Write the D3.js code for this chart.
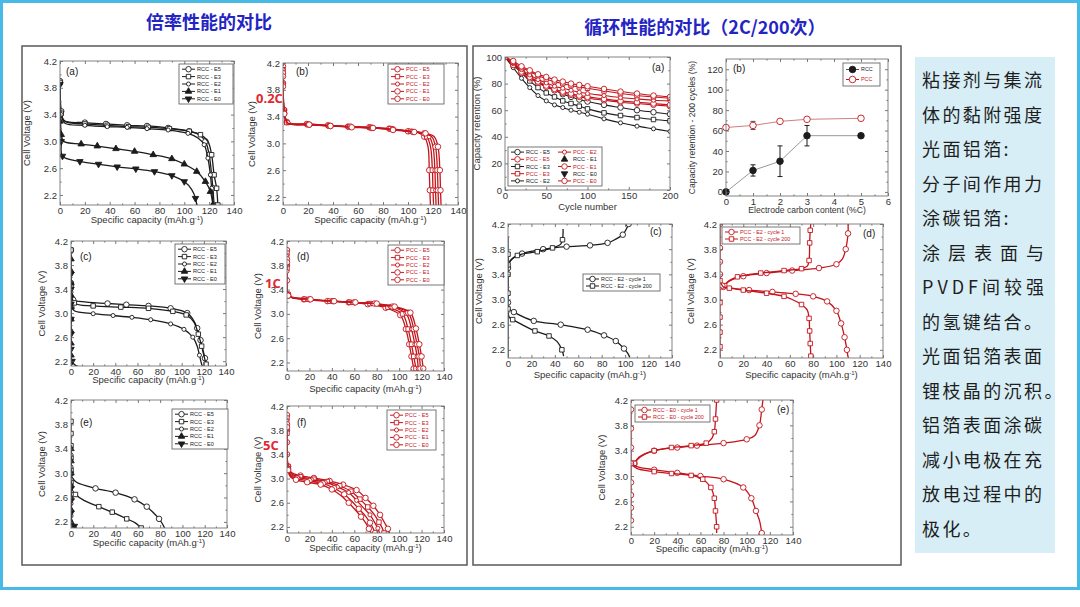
<!DOCTYPE html>
<html>
<head>
<meta charset="utf-8">
<script src="https://cdn.jsdelivr.net/npm/d3@7"></script>
<style>
body { margin: 0; background: #fff; }
svg { display: block; }
</style>
</head>
<body>
<div id="chart"></div>
<script>
// ---------- data: rate capability (capacity mAh/g, voltage V) ----------
// (a) RCC 0.2C
var aE5 = [[0,3.9],[1,3.45],[3,3.31],[20,3.28],[37,3.26],[54,3.24],[70,3.23],[87,3.2],[104,3.15],[112,3.1],[117,3.0],[120,2.8],[122,2.5],[123,2.3],[124,2.05]];
var aE3 = [[0,3.88],[1,3.42],[4,3.3],[20,3.26],[38,3.24],[55,3.22],[71,3.21],[88,3.19],[104,3.15],[113,3.1],[119,3.0],[122,2.8],[124,2.5],[126,2.3],[127,2.05]];
var aE2 = [[0,3.85],[1,3.4],[4,3.27],[20,3.24],[38,3.22],[54,3.21],[70,3.19],[87,3.17],[103,3.12],[111,3.05],[116,2.95],[119,2.75],[121,2.5],[122,2.3],[123,2.05]];
var aE1 = [[0,3.3],[1,3.1],[3,3.0],[17,2.96],[30,2.93],[45,2.89],[60,2.85],[75,2.8],[90,2.74],[100,2.66],[110,2.55],[117,2.4],[121,2.25],[123,2.05]];
var aE0 = [[0,3.85],[1,3.0],[2,2.78],[16,2.7],[31,2.66],[46,2.62],[61,2.59],[76,2.55],[90,2.49],[100,2.4],[106,2.28],[109,2.15],[110,2.05]];
// (b) PCC 0.2C
var bE5 = [[0,4.15],[0,3.9],[1,3.5],[3,3.32],[19,3.29],[36,3.27],[52,3.25],[69,3.24],[85,3.22],[100,3.18],[108,3.16],[113,3.1],[116,2.95],[117,2.6],[117.5,2.3],[118,2.05]];
var bE3 = [[0,4.1],[0,3.88],[1,3.48],[3,3.31],[20,3.28],[37,3.26],[53,3.25],[70,3.24],[86,3.22],[102,3.18],[110,3.16],[115,3.1],[118,2.95],[119.5,2.6],[120,2.3],[120.5,2.05]];
var bE2 = [[0,4.1],[0,3.86],[1,3.47],[4,3.31],[20,3.29],[37,3.27],[53,3.25],[70,3.23],[87,3.21],[103,3.18],[111,3.16],[117,3.1],[120,2.95],[121.5,2.6],[122,2.3],[122.5,2.05]];
var bE1 = [[0,4.05],[0,3.85],[1,3.45],[4,3.3],[21,3.28],[38,3.26],[54,3.25],[71,3.23],[88,3.21],[104,3.17],[113,3.15],[119,3.1],[122,2.95],[123.5,2.6],[124,2.3],[124.5,2.05]];
var bE0 = [[0,4.0],[0,3.84],[1,3.44],[4,3.3],[21,3.28],[38,3.26],[55,3.24],[72,3.23],[88,3.2],[105,3.17],[114,3.15],[121,3.1],[124,2.95],[125.5,2.6],[126,2.3],[126.5,2.05]];
// (c) RCC 1C
var cE5 = [[0,4.05],[0,3.5],[2,3.22],[10,3.19],[33,3.16],[50,3.14],[70,3.12],[90,3.08],[105,3.0],[110,2.9],[114,2.75],[117,2.55],[119,2.4],[121,2.25],[123,2.1]];
var cE3 = [[0,4.05],[0,3.45],[3,3.17],[20,3.12],[45,3.1],[70,3.08],[92,3.03],[104,2.97],[111,2.85],[115,2.65],[118,2.45],[120,2.3],[122,2.15],[123,2.1]];
var cE2 = [[0,3.35],[1,3.1],[3,3.04],[20,2.99],[38,2.96],[55,2.93],[72,2.89],[90,2.82],[102,2.73],[110,2.6],[114,2.45],[116,2.3],[118,2.15],[119,2.1]];
var cE1 = [[0,3.9],[0,3.7],[0,3.5],[0,3.3],[0,3.1],[0,2.9],[0,2.7],[0,2.5],[0,2.3],[0,2.1]];
var cE0 = [[0,3.65],[0,3.4],[0,3.15],[0,2.9],[0,2.65],[0,2.4],[1,2.2],[4,2.13],[9,2.1]];
// (d) PCC 1C
var dE5 = [[0,4.05],[0,3.8],[0,3.55],[1,3.32],[4,3.27],[15,3.24],[36,3.21],[55,3.19],[72,3.16],[88,3.1],[101,2.98],[106,2.75],[109,2.5],[111,2.3],[113,2.1]];
var dE3 = [[0,4.0],[0,3.75],[1,3.32],[4,3.27],[16,3.24],[38,3.21],[56,3.19],[74,3.17],[90,3.11],[103,3.0],[108,2.75],[111,2.5],[113,2.3],[115,2.1]];
var dE2 = [[0,3.95],[0,3.7],[1,3.31],[5,3.27],[18,3.24],[40,3.21],[58,3.19],[76,3.17],[92,3.12],[106,3.01],[111,2.75],[114,2.5],[116,2.3],[117,2.1]];
var dE1 = [[0,3.9],[1,3.3],[5,3.27],[20,3.24],[41,3.21],[60,3.19],[78,3.17],[94,3.12],[108,3.02],[113,2.75],[116,2.5],[118,2.3],[119,2.1]];
var dE0 = [[0,3.85],[1,3.3],[5,3.27],[21,3.24],[42,3.21],[61,3.19],[80,3.17],[96,3.12],[110,3.02],[115,2.76],[118,2.5],[120,2.3],[121.5,2.1]];
// (e) RCC 5C
var eE5 = [[0,3.0],[1,2.93],[5,2.85],[22,2.75],[40,2.68],[57,2.57],[68,2.45],[74,2.35],[79,2.25],[82,2.17],[84,2.1]];
var eE3 = [[0,3.85],[0,3.65],[0,3.45],[0,3.25],[0,3.05],[0,2.85],[1,2.72],[4,2.65],[12,2.55],[25,2.45],[37,2.36],[50,2.25],[58,2.18],[63,2.1]];
var eE2 = [[0,3.3],[0,3.1],[0,2.9],[0,2.7],[0,2.5],[0,2.3],[0,2.1]];
var eE1 = [[0,3.4],[0,3.2],[0,3.0],[0,2.8],[0,2.6],[0,2.4],[0,2.2],[0,2.1]];
var eE0 = [[0,2.75],[0,2.55],[0,2.35],[1,2.2],[3,2.13],[5,2.1]];
// (f) PCC 5C
var fE5 = [[0,4.05],[0,3.8],[0,3.6],[0,3.4],[1,3.2],[4,3.1],[12,3.05],[24,3.01],[38,2.96],[50,2.9],[62,2.81],[70,2.68],[77,2.55],[83,2.4],[87,2.27],[90,2.17],[91.5,2.1]];
var fE3 = [[0,4.0],[0,3.75],[1,3.2],[4,3.08],[12,3.03],[24,2.99],[36,2.95],[47,2.88],[57,2.79],[65,2.66],[72,2.53],[78,2.4],[82,2.28],[85,2.18],[86.5,2.1]];
var fE2 = [[0,3.95],[1,3.18],[3,3.07],[10,3.02],[22,2.98],[34,2.94],[45,2.86],[55,2.77],[62,2.64],[68,2.52],[74,2.4],[78,2.28],[81,2.18],[82.5,2.1]];
var fE1 = [[0,3.9],[1,3.16],[3,3.05],[9,3.0],[20,2.96],[32,2.92],[42,2.84],[51,2.74],[58,2.62],[64,2.5],[70,2.38],[74,2.27],[77,2.17],[78.5,2.1]];
var fE0 = [[0,3.85],[1,3.14],[3,3.03],[8,2.98],[18,2.94],[30,2.9],[40,2.82],[48,2.72],[55,2.6],[61,2.48],[66,2.37],[70,2.27],[73,2.17],[75,2.1]];

// ---------- data: cycling (2C / 200 cycles) ----------
var cycles = [0,10,20,30,40,50,60,70,80,90,100,120,140,160,180,200];
var retRccE5 = [100,95,90,85,81,78,75,72,70,68,66.5,64,62,60,58.5,57];
var retRccE3 = [100,94,88,82,77,73,70,67,65,63,61,58,56,54.5,53,52];
var retRccE2 = [100,92,84,77,71,67,64,62,60,58.5,57,53.5,50.5,48,46,44];
var retPccE5 = [100,97,93,90,87,85,83,81.5,80,79,78,76,74,72.5,71,70];
var retPccE3 = [100,96,92,89,86,83.5,81.5,80,78.5,77.5,76.5,74.5,72.5,71,70,69];
var retPccE2 = [100,95,90.5,86.5,83,80.5,78,76.5,75,73.5,72.5,71,69.5,68.5,67.5,67];
var retPccE1 = [100,94,89,85,81.5,78.5,76,74,72.5,71,70,68.5,67,66,65,64];
var retPccE0 = [100,94,88,84,80.5,77.5,75,73,71.5,70,69,67.5,66,65,64,63];

var carbon = [0,1,2,3,5];
var rccRet200 = [0,21,30,55,55];
var rccErr = [0,5.5,15,10,0];
var pccRet200 = [63,65,69,71,72];
var pccErr = [0,4,1.5,0,0];

// (c) RCC-E2 cycle 1 / 200
var rcC1Chg = [[0,3.5],[1,3.58],[4,3.65],[12,3.73],[30,3.8],[50,3.84],[70,3.86],[85,3.9],[92,3.96],[98,4.03],[101,4.12],[103,4.2]];
var rcC200Chg = [[0,3.55],[2,3.62],[8,3.7],[25,3.76],[38,3.82],[45,3.88],[46.5,3.95],[47,4.05],[47,4.12]];
var rcC1Dis = [[0,2.95],[1,2.85],[5,2.8],[22,2.66],[45,2.6],[68,2.52],[82,2.43],[92,2.34],[99,2.22],[102,2.15],[104,2.08]];
var rcC200Dis = [[0,3.72],[0,3.55],[0,3.4],[0,3.25],[0,3.1],[0,2.97],[0,2.85],[1,2.72],[4,2.68],[12,2.6],[23,2.5],[35,2.42],[42,2.33],[46,2.2],[47.5,2.1]];
var rcRest = [[0,4.0],[0,2.1]];
// (d) PCC-E2 cycle 1 / 200
var rdC1Chg = [[3,3.2],[6,3.27],[10,3.31],[20,3.37],[40,3.42],[62,3.46],[85,3.5],[100,3.56],[105,3.64],[108,3.8],[109,3.9],[110,4.05],[110,4.2]];
var rdC200Chg = [[4,3.22],[8,3.3],[15,3.36],[35,3.42],[55,3.46],[70,3.49],[75,3.53],[76.5,3.62],[77,3.9],[77.5,4.1],[78,4.2]];
var rdC1Dis = [[0,4.2],[0,4.05],[0,3.82],[0,3.6],[0,3.4],[2,3.22],[10,3.18],[25,3.15],[45,3.12],[65,3.09],[80,3.05],[92,2.97],[100,2.82],[104,2.62],[107,2.4],[109,2.2],[110,2.08]];
var rdC200Dis = [[0,3.3],[3,3.2],[8,3.18],[20,3.15],[40,3.1],[55,3.05],[62,3.0],[70,2.92],[75,2.83],[76.5,2.7],[77,2.5],[77.5,2.3],[78,2.1]];
var rdRest = [[0,3.2],[0,2.95],[0,2.72],[0,2.48],[0,2.25],[0,2.1]];
// (e) E0 cycle 1 / 200
var reC1Chg = [[3,3.2],[8,3.3],[20,3.4],[40,3.45],[57,3.48],[80,3.52],[100,3.58],[107,3.64],[111,3.8],[112,3.9],[113,4.05],[114,4.2]];
var reC200Chg = [[3,3.2],[7,3.3],[20,3.4],[35,3.45],[52,3.48],[65,3.52],[70,3.6],[72,3.7],[73,3.9],[74,4.2]];
var reC1Dis = [[0,3.2],[5,3.15],[20,3.1],[40,3.05],[60,3.0],[80,2.95],[97,2.82],[104,2.65],[108,2.45],[111,2.3],[113,2.1]];
var reC200Dis = [[0,3.2],[5,3.12],[20,3.07],[35,3.04],[52,3.01],[62,2.95],[69,2.82],[72,2.65],[73,2.45],[74,2.2],[74,2.1]];
var reRest = [[0,4.05],[0,3.9],[0,3.75],[0,3.6],[0,3.45],[0,3.3],[0,2.9],[0,2.7],[0,2.5],[0,2.3]];

var rateNames = ["E5", "E3", "E2", "E1", "E0"];
var textLines = ["粘接剂与集流", "体的黏附强度", "光面铝箔:", "分子间作用力", "涂碳铝箔:", "涂层表面与", "PVDF间较强", "的氢键结合。", "光面铝箔表面", "锂枝晶的沉积。", "铝箔表面涂碳", "减小电极在充", "放电过程中的", "极化。"];

// ---------- drawing ----------
var black = "#1c1c1c", red = "#c4141c";
var font = "'Liberation Sans', Arial, sans-serif";
var svg = d3.select("#chart").append("svg").attr("width", 1080).attr("height", 607);
svg.append("rect").attr("width", 1080).attr("height", 607).attr("fill", "#fff");
svg.append("rect").attr("x", 1.5).attr("y", 1.5).attr("width", 1077).attr("height", 587)
  .attr("fill", "none").attr("stroke", "#49b9e6").attr("stroke-width", 3);
svg.append("rect").attr("x", 22).attr("y", 46).attr("width", 445).attr("height", 519)
  .attr("fill", "none").attr("stroke", "#5a5a5a").attr("stroke-width", 1.5);
svg.append("rect").attr("x", 473).attr("y", 46).attr("width", 428).attr("height", 519)
  .attr("fill", "none").attr("stroke", "#5a5a5a").attr("stroke-width", 1.5);

svg.append("text").attr("x", 209).attr("y", 29).attr("text-anchor", "middle")
  .attr("font-family", "'Noto Sans CJK SC'").attr("font-size", 18).attr("font-weight", 700)
  .attr("fill", "#2424c4").text("倍率性能的对比");
svg.append("text").attr("x", 705).attr("y", 34).attr("text-anchor", "middle")
  .attr("font-family", "'Noto Sans CJK SC'").attr("font-size", 18).attr("font-weight", 700)
  .attr("fill", "#2424c4").text("循环性能的对比（2C/200次）");

function addMark(g, px, py, type, color) {
  var sym = { circle: d3.symbolCircle, dot: d3.symbolCircle, fcircle: d3.symbolCircle, ocircle: d3.symbolCircle,
    square: d3.symbolSquare, tri: d3.symbolTriangle, tridown: d3.symbolTriangle }[type];
  var size = { circle: 24, dot: 13, fcircle: 34, ocircle: 34, square: 20, tri: 18, tridown: 18 }[type];
  var filled = type == "tri" || type == "tridown" || type == "fcircle";
  g.append("path").attr("d", d3.symbol().type(sym).size(size)())
    .attr("transform", "translate(" + px + "," + py + ")" + (type == "tridown" ? " rotate(180)" : ""))
    .attr("fill", filled ? color : "#fff").attr("stroke", color).attr("stroke-width", 0.9);
}

function drawSeries(g, pts, x, y, color, mark, gap, lw) {
  var line = d3.line().x(function (d) { return x(d[0]); }).y(function (d) { return y(d[1]); })
    .curve(d3.curveCatmullRom.alpha(0.5));
  g.append("path").attr("d", line(pts)).attr("fill", "none").attr("stroke", color).attr("stroke-width", lw || 1.2);
  if (!mark) return;
  var last = null, y0 = y.range()[0], y1 = y.range()[1];
  pts.forEach(function (d) {
    var px = x(d[0]), py = y(d[1]);
    if (py > y0 + 1 || py < y1 - 1) return;
    if (last && Math.hypot(px - last[0], py - last[1]) < gap) return;
    last = [px, py];
    addMark(g, px, py, mark, color);
  });
}

function axes(p, x, y) {
  var g = svg.append("g");
  function style(sel) {
    sel.select(".domain").remove();
    sel.selectAll("line").attr("stroke", "#555").attr("stroke-width", 0.8);
    sel.selectAll("text").attr("font-size", p.tfs || 9.5).attr("fill", "#333").attr("font-family", font);
  }
  g.append("g").attr("transform", "translate(0," + p.b + ")")
    .call(d3.axisBottom(x).tickValues(p.xt).tickSize(-3).tickPadding(2).tickFormat(d3.format("d"))).call(style);
  g.append("g").attr("transform", "translate(0," + p.b + ")")
    .call(d3.axisBottom(x).tickValues(p.xm).tickSize(-1.6).tickFormat("")).call(style);
  g.append("g").attr("transform", "translate(0," + p.t + ")")
    .call(d3.axisTop(x).tickValues(p.xt).tickSize(-3).tickFormat("")).call(style);
  g.append("g").attr("transform", "translate(0," + p.t + ")")
    .call(d3.axisTop(x).tickValues(p.xm).tickSize(-1.6).tickFormat("")).call(style);
  g.append("g").attr("transform", "translate(" + p.l + ",0)")
    .call(d3.axisLeft(y).tickValues(p.yt).tickSize(-3).tickPadding(3).tickFormat(p.yf)).call(style);
  g.append("g").attr("transform", "translate(" + p.l + ",0)")
    .call(d3.axisLeft(y).tickValues(p.ym).tickSize(-1.6).tickFormat("")).call(style);
  g.append("g").attr("transform", "translate(" + p.r + ",0)")
    .call(d3.axisRight(y).tickValues(p.yt).tickSize(-3).tickFormat("")).call(style);
  g.append("g").attr("transform", "translate(" + p.r + ",0)")
    .call(d3.axisRight(y).tickValues(p.ym).tickSize(-1.6).tickFormat("")).call(style);
  g.append("rect").attr("x", p.l).attr("y", p.t).attr("width", p.r - p.l).attr("height", p.b - p.t)
    .attr("fill", "none").attr("stroke", "#777").attr("stroke-width", 0.9);
  // titles
  var xt = g.append("text").attr("x", (p.l + p.r) / 2).attr("y", p.b + (p.xto || 18)).attr("text-anchor", "middle")
    .attr("font-family", font).attr("font-size", p.afs || 9.5).attr("fill", "#333");
  if (p.xlab) { xt.text(p.xlab); }
  else {
    xt.append("tspan").text("Specific capacity (mAh.g");
    xt.append("tspan").attr("dy", -3).attr("font-size", 6).text("-1");
    xt.append("tspan").attr("dy", 3).text(")");
  }
  g.append("text").attr("transform", "translate(" + (p.l - (p.yto || 26)) + "," + ((p.t + p.b) / 2) + ") rotate(-90)")
    .attr("text-anchor", "middle").attr("font-family", font).attr("font-size", p.afs || 9.5).attr("fill", "#333")
    .text(p.ylab || "Cell Voltage (V)");
  if (p.lab) {
    g.append("text").attr("x", p.labX).attr("y", p.labY).attr("font-family", font).attr("font-size", 10)
      .attr("fill", "#222").text(p.lab);
  }
  return g;
}

function legend(x0, y0, w, rowH, items, fs) {
  var g = svg.append("g");
  g.append("rect").attr("x", x0).attr("y", y0).attr("width", w).attr("height", rowH * items.length + 3)
    .attr("fill", "#fff").attr("stroke", "#555").attr("stroke-width", 0.8);
  items.forEach(function (it, i) {
    var cy = y0 + 1.5 + rowH * (i + 0.5);
    if (it.line !== false) {
      g.append("line").attr("x1", x0 + 3).attr("x2", x0 + 16).attr("y1", cy).attr("y2", cy)
        .attr("stroke", it.lc || it.color).attr("stroke-width", 1);
    }
    addMark(g, x0 + 9.5, cy, it.mark, it.color);
    g.append("text").attr("x", x0 + 18).attr("y", cy + fs * 0.36).attr("font-family", font)
      .attr("font-size", fs).attr("fill", it.tc || "#222").text(it.label);
  });
}

var vxT = [0, 20, 40, 60, 80, 100, 120, 140], vxM = [10, 30, 50, 70, 90, 110, 130];
var vyT = [2.2, 2.6, 3.0, 3.4, 3.8, 4.2], vyM = [2.4, 2.8, 3.2, 3.6, 4.0];
var rccMarks = ["circle", "square", "dot", "tri", "tridown"];
var pccMarks = ["circle", "square", "dot", "circle", "circle"];

var ratePanels = [
  { l: 60, r: 234, t: 61, b: 205, yd: [2.05, 4.2], lab: "(a)", labX: 66, labY: 75, kind: "RCC", s: [aE5, aE3, aE2, aE1, aE0], leg: [179, 64, 54], yto: 30 },
  { l: 283, r: 458, t: 63, b: 205, yd: [2.08, 4.2], lab: "(b)", labX: 296, labY: 75, kind: "PCC", s: [bE5, bE3, bE2, bE1, bE0], leg: [388, 64, 56], yto: 28 },
  { l: 71, r: 226, t: 241, b: 366, yd: [2.12, 4.2], lab: "(c)", labX: 80, labY: 260, kind: "RCC", s: [cE5, cE3, cE2, cE1, cE0], leg: [175, 244, 50], xto: 17 },
  { l: 287, r: 444, t: 241, b: 371, yd: [2.06, 4.2], lab: "(d)", labX: 297, labY: 260, kind: "PCC", s: [dE5, dE3, dE2, dE1, dE0], leg: [388, 245, 56], xto: 21 },
  { l: 71, r: 227, t: 400, b: 528, yd: [2.1, 4.2], lab: "(e)", labX: 80, labY: 426, kind: "RCC", s: [eE5, eE3, eE2, eE1, eE0], leg: [172, 409, 56] },
  { l: 287, r: 444, t: 406, b: 533, yd: [2.1, 4.2], lab: "(f)", labX: 297, labY: 426, kind: "PCC", s: [fE5, fE3, fE2, fE1, fE0], leg: [387, 410, 49] }
];

ratePanels.forEach(function (p, k) {
  p.xt = vxT; p.xm = vxM; p.yt = vyT; p.ym = vyM; p.yf = d3.format(".1f");
  var x = d3.scaleLinear().domain([0, 140]).range([p.l, p.r]);
  var y = d3.scaleLinear().domain(p.yd).range([p.b, p.t]);
  var color = p.kind == "RCC" ? black : red;
  var marks = p.kind == "RCC" ? rccMarks : pccMarks;
  svg.append("clipPath").attr("id", "cr" + k).append("rect").attr("x", p.l).attr("y", p.t)
    .attr("width", p.r - p.l).attr("height", p.b - p.t);
  var g = svg.append("g").attr("clip-path", "url(#cr" + k + ")");
  p.s.forEach(function (pts, i) { drawSeries(g, pts, x, y, color, marks[i], 11, 1.3); });
  axes(p, x, y);
  legend(p.leg[0], p.leg[1], p.leg[2], 7.4, rateNames.map(function (n, i) {
    return { label: p.kind + " - " + n, color: color, mark: marks[i], tc: p.kind == "PCC" ? red : "#222" };
  }), 5.6);
});

// rate labels
[["0.2C", 256, 103], ["1C", 265, 288], ["5C", 263, 450]].forEach(function (d) {
  svg.append("text").attr("x", d[1]).attr("y", d[2]).attr("font-family", "'Open Sans', sans-serif")
    .attr("font-weight", 700).attr("font-size", 13).attr("fill", "#e3262e").text(d[0]);
});

// ---- cycle retention (a)
(function () {
  var p = { l: 505, r: 670, t: 57, b: 190, xt: [0, 50, 100, 150, 200], xm: [25, 75, 125, 175],
    yt: [0, 20, 40, 60, 80, 100], ym: [10, 30, 50, 70, 90], yf: d3.format("d"),
    xlab: "Cycle number", ylab: "Capacity retention (%)", yto: 25, xto: 20, lab: "(a)", labX: 652, labY: 71 };
  var x = d3.scaleLinear().domain([0, 200]).range([p.l, p.r]);
  var y = d3.scaleLinear().domain([0, 100]).range([p.b, p.t]);
  svg.append("clipPath").attr("id", "cra").append("rect").attr("x", p.l).attr("y", p.t)
    .attr("width", p.r - p.l).attr("height", p.b - p.t);
  var g = svg.append("g").attr("clip-path", "url(#cra)");
  var sets = [[retRccE2, black, "dot"], [retRccE3, black, "square"], [retRccE5, black, "circle"],
    [retPccE0, red, "circle"], [retPccE1, red, "circle"], [retPccE2, red, "dot"], [retPccE3, red, "square"], [retPccE5, red, "circle"]];
  sets.forEach(function (s) {
    drawSeries(g, cycles.map(function (c, i) { return [c, s[0][i]]; }), x, y, s[1], s[2], 6, 1.1);
  });
  axes(p, x, y);
  var col1 = [{ label: "RCC - E5", color: black, mark: "circle" }, { label: "PCC - E5", color: red, mark: "circle", tc: red },
    { label: "RCC - E3", color: black, mark: "square" }, { label: "PCC - E3", color: red, mark: "square", tc: red },
    { label: "RCC - E2", color: black, mark: "dot" }];
  var col2 = [{ label: "PCC - E2", color: red, mark: "dot", tc: red }, { label: "RCC - E1", color: black, mark: "tri", line: false },
    { label: "PCC - E1", color: red, mark: "circle", tc: red }, { label: "RCC - E0", color: black, mark: "tridown", line: false },
    { label: "PCC - E0", color: red, mark: "circle", tc: red }];
  legend(508, 147, 94, 7.2, col1, 5.6);
  var g2 = svg.append("g");
  col2.forEach(function (it, i) {
    var cy = 147 + 1.5 + 7.2 * (i + 0.5), x0 = 555;
    if (it.line !== false) g2.append("line").attr("x1", x0 + 3).attr("x2", x0 + 16).attr("y1", cy).attr("y2", cy).attr("stroke", it.color);
    addMark(g2, x0 + 9.5, cy, it.mark, it.color);
    g2.append("text").attr("x", x0 + 18).attr("y", cy + 2).attr("font-family", font).attr("font-size", 5.6)
      .attr("fill", it.tc || "#222").text(it.label);
  });
})();

// ---- retention vs carbon (b)
(function () {
  var p = { l: 726, r: 888, t: 59, b: 196, xt: [0, 1, 2, 3, 4, 5, 6], xm: [0.5, 1.5, 2.5, 3.5, 4.5, 5.5],
    yt: [0, 20, 40, 60, 80, 100, 120], ym: [10, 30, 50, 70, 90, 110], yf: d3.format("d"),
    xlab: "Electrode carbon content (%C)", ylab: "Capacity retention - 200 cycles (%)", yto: 31, xto: 17, afs: 8.6,
    lab: "(b)", labX: 733, labY: 72 };
  var x = d3.scaleLinear().domain([0, 6]).range([p.l, p.r]);
  var y = d3.scaleLinear().domain([-4, 130]).range([p.b, p.t]);
  var g = svg.append("g");
  var ln = d3.line().x(function (d, i) { return x(carbon[i]); }).y(function (d) { return y(d); });
  g.append("path").attr("d", ln(pccRet200)).attr("fill", "none").attr("stroke", "#d08080").attr("stroke-width", 1);
  g.append("path").attr("d", ln(rccRet200)).attr("fill", "none").attr("stroke", "#999").attr("stroke-width", 1);
  function errs(vals, err, col) {
    vals.forEach(function (v, i) {
      if (!err[i]) return;
      var cx = x(carbon[i]);
      g.append("line").attr("x1", cx).attr("x2", cx).attr("y1", y(v - err[i])).attr("y2", y(v + err[i])).attr("stroke", col).attr("stroke-width", 1);
      [v - err[i], v + err[i]].forEach(function (e) {
        g.append("line").attr("x1", cx - 2.5).attr("x2", cx + 2.5).attr("y1", y(e)).attr("y2", y(e)).attr("stroke", col).attr("stroke-width", 1);
      });
    });
  }
  errs(rccRet200, rccErr, black);
  errs(pccRet200, pccErr, "#555");
  rccRet200.forEach(function (v, i) { addMark(g, x(carbon[i]), y(v), "fcircle", black); });
  pccRet200.forEach(function (v, i) { addMark(g, x(carbon[i]), y(v), "ocircle", red); });
  axes(p, x, y);
  legend(843, 63, 37, 10, [{ label: "RCC", color: black, mark: "fcircle", lc: "#555" }, { label: "PCC", color: red, mark: "ocircle", tc: red }], 5.4);
})();

// ---- cycle 1 vs cycle 200 voltage panels
var cyclePanels = [
  { l: 508, r: 672, t: 224, b: 358, lab: "(c)", labX: 650, labY: 235, color: black,
    s: [[rcRest, null], [rcC1Chg, "circle"], [rcC200Chg, "square"], [rcC1Dis, "circle"], [rcC200Dis, "square"]],
    leg: [583, 274, 77], names: ["RCC - E2 - cycle 1", "RCC - E2 - cycle 200"], tc: "#222", xto: 20 },
  { l: 720, r: 883, t: 224, b: 358, lab: "(d)", labX: 863, labY: 237, color: red,
    s: [[rdRest, "square"], [rdC1Chg, "circle"], [rdC200Chg, "square"], [rdC1Dis, "circle"], [rdC200Dis, "square"]],
    leg: [722, 227, 78], names: ["PCC - E2 - cycle 1", "PCC - E2 - cycle 200"], tc: red, xto: 20 },
  { l: 631, r: 793, t: 400, b: 535, lab: "(e)", labX: 777, labY: 413, color: red,
    s: [[reRest, "circle"], [reC1Chg, "circle"], [reC200Chg, "square"], [reC1Dis, "circle"], [reC200Dis, "square"]],
    leg: [635, 405, 75], names: ["RCC - E0 - cycle 1", "RCC - E0 - cycle 200"], tc: red, xto: 17 }
];
cyclePanels.forEach(function (p, k) {
  p.xt = vxT; p.xm = vxM; p.yt = vyT; p.ym = vyM; p.yf = d3.format(".1f");
  var x = d3.scaleLinear().domain([0, 140]).range([p.l, p.r]);
  var y = d3.scaleLinear().domain([2.07, 4.2]).range([p.b, p.t]);
  svg.append("clipPath").attr("id", "cc" + k).append("rect").attr("x", p.l).attr("y", p.t)
    .attr("width", p.r - p.l).attr("height", p.b - p.t);
  var g = svg.append("g").attr("clip-path", "url(#cc" + k + ")");
  p.s.forEach(function (s) { drawSeries(g, s[0], x, y, p.color, s[1], 11, 1.3); });
  axes(p, x, y);
  legend(p.leg[0], p.leg[1], p.leg[2], 7, [{ label: p.names[0], color: p.color, mark: "circle", tc: p.tc },
    { label: p.names[1], color: p.color, mark: "square", tc: p.tc }], 5.4);
});

// ---- text box
svg.append("rect").attr("x", 915).attr("y", 57).attr("width", 140).attr("height", 496).attr("fill", "#d8eef6");
textLines.forEach(function (t, i) {
  var tx = svg.append("text").attr("x", 922).attr("y", 87 + i * 34.5).attr("font-family", "'Noto Sans CJK SC'")
    .attr("font-size", 18).attr("fill", "#1e1e1e").attr("letter-spacing", 2.4).text(t);
  if (i == 5 || i == 6) tx.attr("textLength", 122).attr("lengthAdjust", "spacing").attr("letter-spacing", 0);
});
</script>
</body>
</html>
